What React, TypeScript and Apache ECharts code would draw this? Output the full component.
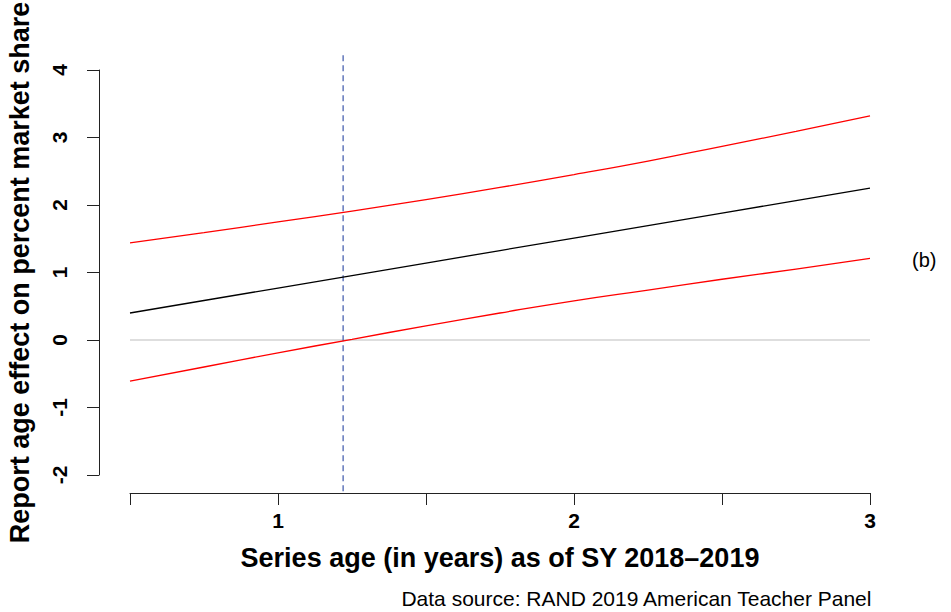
import React, { useEffect, useRef } from "react";
import * as echarts from "echarts";

const ages = [0.5, 0.75, 1, 1.25, 1.5, 1.75, 2, 2.25, 2.5, 2.75, 3];
const estimate = [0.4, 0.585, 0.77, 0.955, 1.14, 1.325, 1.51, 1.695, 1.88, 2.065, 2.25];
const upper = [1.44, 1.59, 1.75, 1.91, 2.08, 2.26, 2.45, 2.65, 2.87, 3.09, 3.32];
const lower = [-0.61, -0.4, -0.19, 0.01, 0.21, 0.4, 0.58, 0.74, 0.9, 1.05, 1.21];
const zeroLine = [0, 0];
const zeroRange = [0.5, 3];
const cutoffAge = 1.22;
const cutoffRange = [-2.24, 4.24];
const xTickLabels = ["1", "2", "3"];

const FONT = "'Liberation Sans', Arial, sans-serif";

export default function App() {
  const ref = useRef<HTMLDivElement>(null);
  useEffect(() => {
    const chart = echarts.init(ref.current!, null, { renderer: "svg" });
    const pairs = (ys: number[]) => ages.map((x, i) => [x, ys[i]]);
    chart.setOption({
      animation: false,
      backgroundColor: "#ffffff",
      grid: { left: 130, top: 70, width: 740, height: 405, containLabel: false, outerBoundsMode: "none" },
      xAxis: {
        type: "value",
        min: 0.5,
        max: 3,
        interval: 0.5,
        offset: 18,
        name: "Series age (in years) as of SY 2018–2019",
        nameLocation: "middle",
        nameGap: 51,
        nameTextStyle: { fontFamily: FONT, fontWeight: "bold", fontSize: 27, color: "#000" },
        axisLine: { show: true, onZero: false, lineStyle: { color: "#222", width: 1 } },
        axisTick: { show: true, length: 12, lineStyle: { color: "#222" } },
        splitLine: { show: false },
        axisLabel: {
          margin: 17,
          fontFamily: FONT,
          fontWeight: "bold",
          fontSize: 21,
          color: "#000",
          formatter: (v: number) => (xTickLabels.includes(String(v)) ? String(v) : ""),
        },
      },
      yAxis: {
        type: "value",
        min: -2,
        max: 4,
        interval: 1,
        offset: 31,
        name: "Report age effect on percent market share",
        nameLocation: "middle",
        nameGap: 66,
        nameTextStyle: { fontFamily: FONT, fontWeight: "bold", fontSize: 27, color: "#000" },
        axisLine: { show: true, onZero: false, lineStyle: { color: "#222", width: 1 } },
        axisTick: { show: true, length: 12, lineStyle: { color: "#222" } },
        splitLine: { show: false },
        axisLabel: {
          rotate: 90,
          margin: 29,
          fontFamily: FONT,
          fontWeight: "bold",
          fontSize: 21,
          color: "#000",
        },
      },
      graphic: [
        {
          type: "text",
          left: 912,
          top: 250,
          style: { text: "(b)", font: `20px ${FONT}`, fill: "#000" },
        },
        {
          type: "text",
          right: 78,
          top: 588,
          style: { text: "Data source: RAND 2019 American Teacher Panel", font: `21px ${FONT}`, fill: "#000" },
        },
      ],
      series: [
        {
          type: "line",
          data: zeroRange.map((x, i) => [x, zeroLine[i]]),
          showSymbol: false,
          lineStyle: { color: "#bebebe", width: 1.2 },
          silent: true,
        },
        {
          type: "line",
          data: cutoffRange.map((y) => [cutoffAge, y]),
          showSymbol: false,
          clip: false,
          lineStyle: { color: "#4a63b0", width: 1.3, type: [6, 4] },
          silent: true,
        },
        {
          type: "line",
          data: pairs(upper),
          showSymbol: false,
          smooth: true,
          lineStyle: { color: "#ff0000", width: 1.3 },
        },
        {
          type: "line",
          data: pairs(estimate),
          showSymbol: false,
          lineStyle: { color: "#000000", width: 1.3 },
        },
        {
          type: "line",
          data: pairs(lower),
          showSymbol: false,
          smooth: true,
          lineStyle: { color: "#ff0000", width: 1.3 },
        },
      ],
    });
    return () => chart.dispose();
  }, []);
  return <div ref={ref} style={{ width: 951, height: 612, position: "absolute", left: 0, top: 0 }} />;
}
